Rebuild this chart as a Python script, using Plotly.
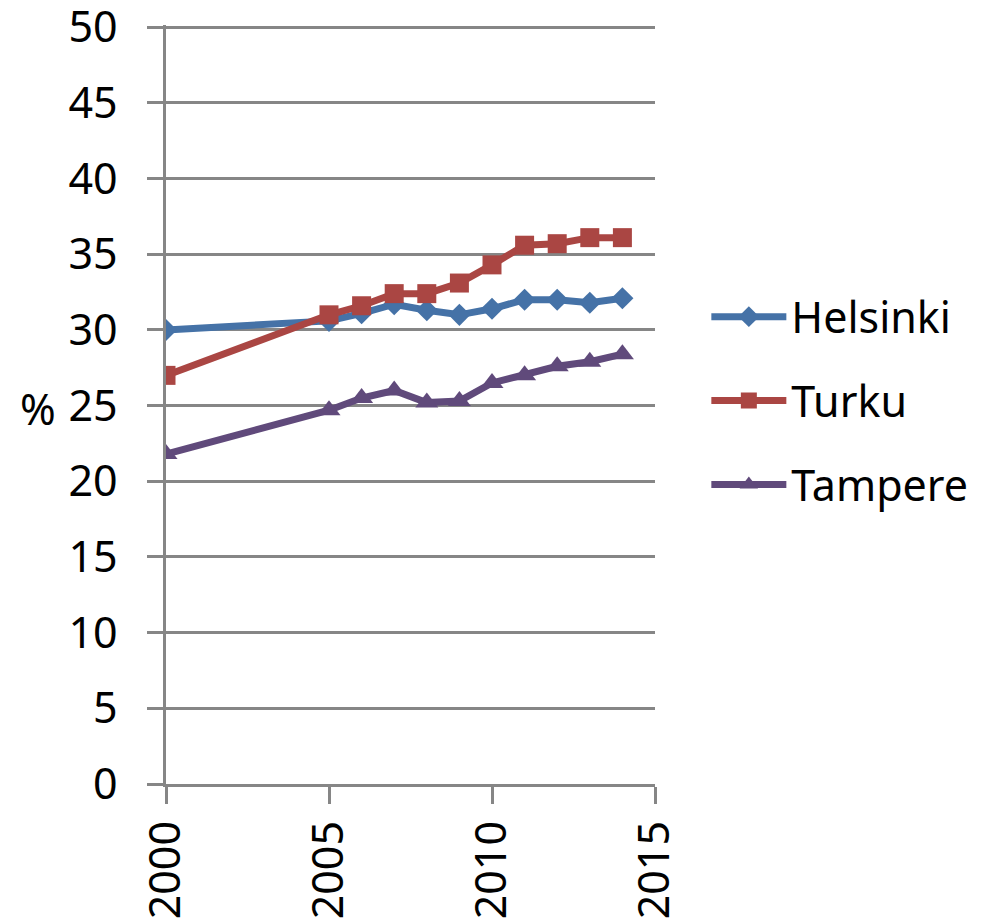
import plotly.graph_objects as go

years = [2000, 2005, 2006, 2007, 2008, 2009, 2010, 2011, 2012, 2013, 2014]
helsinki = [30.0, 30.6, 31.1, 31.7, 31.3, 31.0, 31.4, 32.0, 32.0, 31.8, 32.1]
turku = [27.0, 31.0, 31.6, 32.4, 32.4, 33.1, 34.3, 35.6, 35.7, 36.1, 36.1]
tampere = [21.8, 24.7, 25.5, 26.0, 25.2, 25.3, 26.5, 27.0, 27.6, 27.9, 28.4]

series = [
    ("Helsinki", helsinki, "#4572A7", "diamond", 17),
    ("Turku", turku, "#AA4643", "square", 19),
    ("Tampere", tampere, "#604A7B", "triangle-up", 20),
]

x_ticks = [2000, 2005, 2010, 2015]
y_ticks = [0, 5, 10, 15, 20, 25, 30, 35, 40, 45, 50]

FONT = "Noto Sans"
FS = 43
fig = go.Figure()
for i, (name, vals, color, sym, sz) in enumerate(series):
    fig.add_trace(go.Scatter(
        x=years, y=vals, name=name, mode="lines+markers",
        line=dict(color=color, width=7),
        marker=dict(symbol=sym, size=sz, color=color),
        legendgroup=f"g{i}",
    ))

fig.update_layout(
    width=976, height=913,
    margin=dict(l=158, r=329, t=17, b=137, autoexpand=False),
    plot_bgcolor="white", paper_bgcolor="white",
    font=dict(family=FONT, size=FS, color="black"),
    showlegend=True,
    legend=dict(x=1.105, y=0.505, xanchor="left", yanchor="middle",
                font=dict(size=FS), tracegroupgap=25, itemwidth=75,
                bgcolor="rgba(0,0,0,0)"),
    annotations=[dict(text="%", x=-0.262, y=0.495, xref="paper", yref="paper",
                      showarrow=False, font=dict(size=FS), xanchor="center",
                      yanchor="middle")],
)
fig.update_xaxes(
    range=[2000, 2015], tickvals=x_ticks, ticktext=[str(t) for t in x_ticks],
    tickangle=-90, showgrid=False, zeroline=False, automargin=False,
    showline=True, linecolor="#868686", linewidth=2.5,
    ticks="outside", ticklen=17, tickwidth=2.5, tickcolor="#868686",
    ticklabeloverflow="allow",
)
fig.update_yaxes(
    range=[0, 50.15], tickvals=y_ticks, showgrid=True, gridcolor="#868686", gridwidth=2.5,
    zeroline=False, showline=True, linecolor="#868686", linewidth=2.5, automargin=False,
    ticks="outside", ticklen=16, tickwidth=2.5, tickcolor="#868686",
    ticklabelstandoff=21, ticklabeloverflow="allow",
)
fig.write_html("out.html")
